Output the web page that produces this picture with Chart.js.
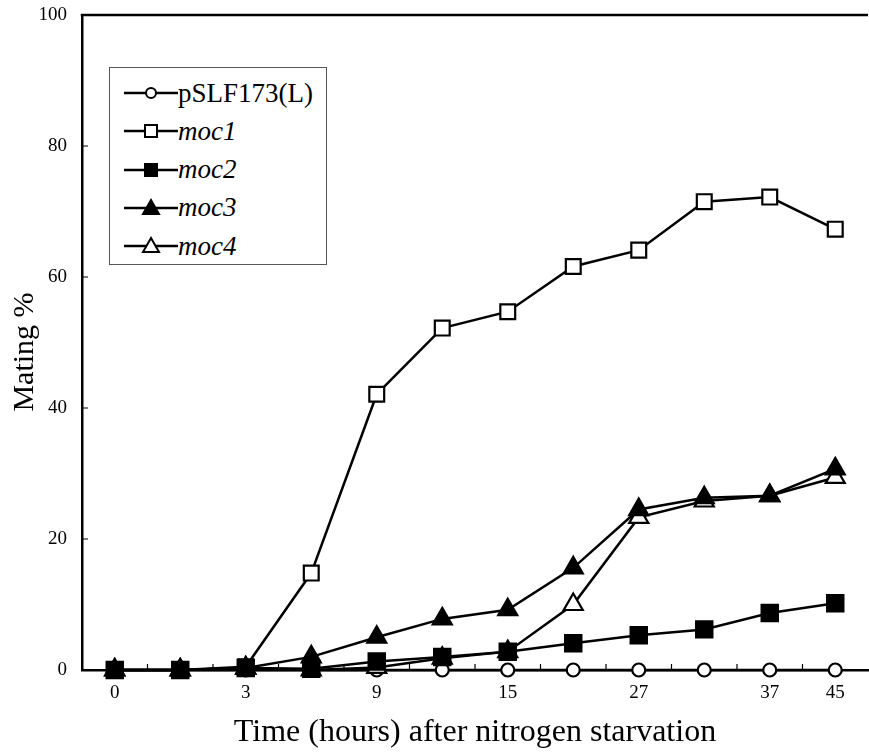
<!DOCTYPE html>
<html>
<head>
<meta charset="utf-8">
<script src="https://cdn.jsdelivr.net/npm/chart.js@4.4.1/dist/chart.umd.min.js"></script>
<style>
  html, body { margin: 0; background: #fff; overflow: hidden; }
  #wrap { position: relative; width: 869px; height: 756px; }
  canvas { display: block; }
  #legend {
    position: absolute; left: 109px; top: 67px; width: 216px; height: 196px;
    border: 1.5px solid #555; background: #fff;
    font-family: "Liberation Serif", "Times New Roman", serif; font-size: 27px; color: #000;
  }
  .item { position: absolute; left: 14px; height: 30px; display: flex; align-items: center; white-space: nowrap; }
  .it { font-style: italic; }
</style>
</head>
<body>
<div id="wrap">
  <canvas id="matingChart" width="869" height="756"></canvas>
  <div id="legend"></div>
</div>
<script>
// Data
const timeLabels = ['0', '', '3', '', '9', '', '15', '', '27', '', '37', '45'];
const pSLF173 = [0, 0, 0, 0, 0, 0, 0, 0, 0, 0, 0, 0];
const moc1 = [0, 0, 0.5, 14.8, 42.1, 52.2, 54.7, 61.6, 64.1, 71.5, 72.2, 67.3];
const moc2 = [0, 0, 0.3, 0.2, 1.3, 2.0, 2.8, 4.1, 5.3, 6.2, 8.7, 10.2];
const moc3 = [0, 0, 0.3, 2.0, 5.0, 7.8, 9.2, 15.6, 24.5, 26.3, 26.6, 30.7];
const moc4 = [0, 0, 0.3, 0, 0.4, 1.8, 2.8, 10.0, 23.3, 25.8, 26.6, 29.4];
const yTicks = [0, 20, 40, 60, 80, 100];

const serif = '"Liberation Serif", "Times New Roman", serif';

const series = [
  { label: 'pSLF173(L)', data: pSLF173, style: 'circle', fill: '#fff', r: 6.5, order: 4, italic: false },
  { label: 'moc1', data: moc1, style: 'rect', fill: '#fff', r: 10.5, order: 3, italic: true },
  { label: 'moc2', data: moc2, style: 'rect', fill: '#000', r: 11.5, order: 0, italic: true },
  { label: 'moc3', data: moc3, style: 'triangle', fill: '#000', r: 11, order: 1, italic: true },
  { label: 'moc4', data: moc4, style: 'triangle', fill: '#fff', r: 11, order: 2, italic: true }
];

// axis frame, inward ticks and y title
const framePlugin = {
  id: 'frame',
  beforeDatasetsDraw(chart) {
    const { ctx, chartArea: { left, right, top, bottom }, scales: { x, y } } = chart;
    ctx.save();
    ctx.strokeStyle = '#000';
    ctx.lineWidth = 2.5;
    ctx.beginPath();
    ctx.moveTo(left - 1.25, top);
    ctx.lineTo(right, top);
    ctx.stroke();

    ctx.lineWidth = 1.2;
    ctx.beginPath();
    for (let i = 1; i < timeLabels.length; i++) {
      const px = x.getPixelForValue(i - 0.5);
      ctx.moveTo(px, bottom);
      ctx.lineTo(px, bottom - 6);
    }
    y.ticks.forEach(t => {
      const py = y.getPixelForValue(t.value);
      ctx.moveTo(left, py);
      ctx.lineTo(left + 6, py);
    });
    ctx.stroke();

    ctx.fillStyle = '#000';
    ctx.font = '30px ' + serif;
    ctx.textAlign = 'center';
    ctx.textBaseline = 'middle';
    ctx.translate(25, 352);
    ctx.rotate(-Math.PI / 2);
    ctx.fillText('Mating %', 0, 0);
    ctx.restore();
  }
};

const chart = new Chart(document.getElementById('matingChart'), {
  type: 'line',
  data: {
    labels: timeLabels,
    datasets: series.map(s => ({
      label: s.label,
      data: s.data,
      order: s.order,
      clip: false,
      borderColor: '#000',
      borderWidth: 2.5,
      tension: 0,
      pointStyle: s.style,
      pointRadius: s.r,
      pointHoverRadius: s.r,
      pointBackgroundColor: s.fill,
      pointBorderColor: '#000',
      pointBorderWidth: 2.2
    }))
  },
  options: {
    responsive: false,
    animation: false,
    layout: { autoPadding: false, padding: { top: 15, right: 1, left: 0, bottom: 0 } },
    plugins: { legend: { display: false }, tooltip: { enabled: false } },
    scales: {
      x: {
        type: 'category',
        offset: true,
        grid: { display: false, drawTicks: false },
        border: { color: '#000', width: 2.5 },
        ticks: { color: '#000', font: { family: serif, size: 19 }, padding: 12, autoSkip: false, maxRotation: 0 },
        title: { display: true, text: 'Time (hours) after nitrogen starvation', color: '#000', font: { family: serif, size: 32 }, padding: { top: 1 } },
        afterFit: s => { s.height = 86; s.paddingLeft = 0; s.paddingRight = 0; }
      },
      y: {
        min: 0,
        max: 100,
        afterBuildTicks: s => { s.ticks = yTicks.map(v => ({ value: v })); },
        grid: { display: false, drawTicks: false },
        border: { color: '#000', width: 2.5 },
        ticks: { color: '#000', font: { family: serif, size: 19 }, padding: 15 },
        afterFit: s => { s.width = 82; s.paddingTop = 0; s.paddingBottom = 0; }
      }
    }
  },
  plugins: [framePlugin]
});

// legend box with line + marker samples
const legend = document.getElementById('legend');
function markerSvg(s) {
  const cx = 27, cy = 15;
  let shape = '';
  if (s.style === 'circle') {
    shape = `<circle cx="${cx}" cy="${cy}" r="5" fill="${s.fill}" stroke="#000" stroke-width="2"/>`;
  } else if (s.style === 'rect') {
    shape = `<rect x="${cx - 6}" y="${cy - 6}" width="12" height="12" fill="${s.fill}" stroke="#000" stroke-width="2"/>`;
  } else {
    shape = `<polygon points="${cx},${cy - 8} ${cx + 8},${cy + 6} ${cx - 8},${cy + 6}" fill="${s.fill}" stroke="#000" stroke-width="2"/>`;
  }
  return `<svg width="54" height="30"><line x1="0" y1="${cy}" x2="54" y2="${cy}" stroke="#000" stroke-width="2.5"/>${shape}</svg>`;
}
series.forEach((s, i) => {
  const row = document.createElement('div');
  row.className = 'item';
  row.style.top = (10 + i * 38.3) + 'px';
  row.innerHTML = markerSvg(s) + `<span class="${s.italic ? 'it' : ''}">${s.label}</span>`;
  legend.appendChild(row);
});
</script>
</body>
</html>
